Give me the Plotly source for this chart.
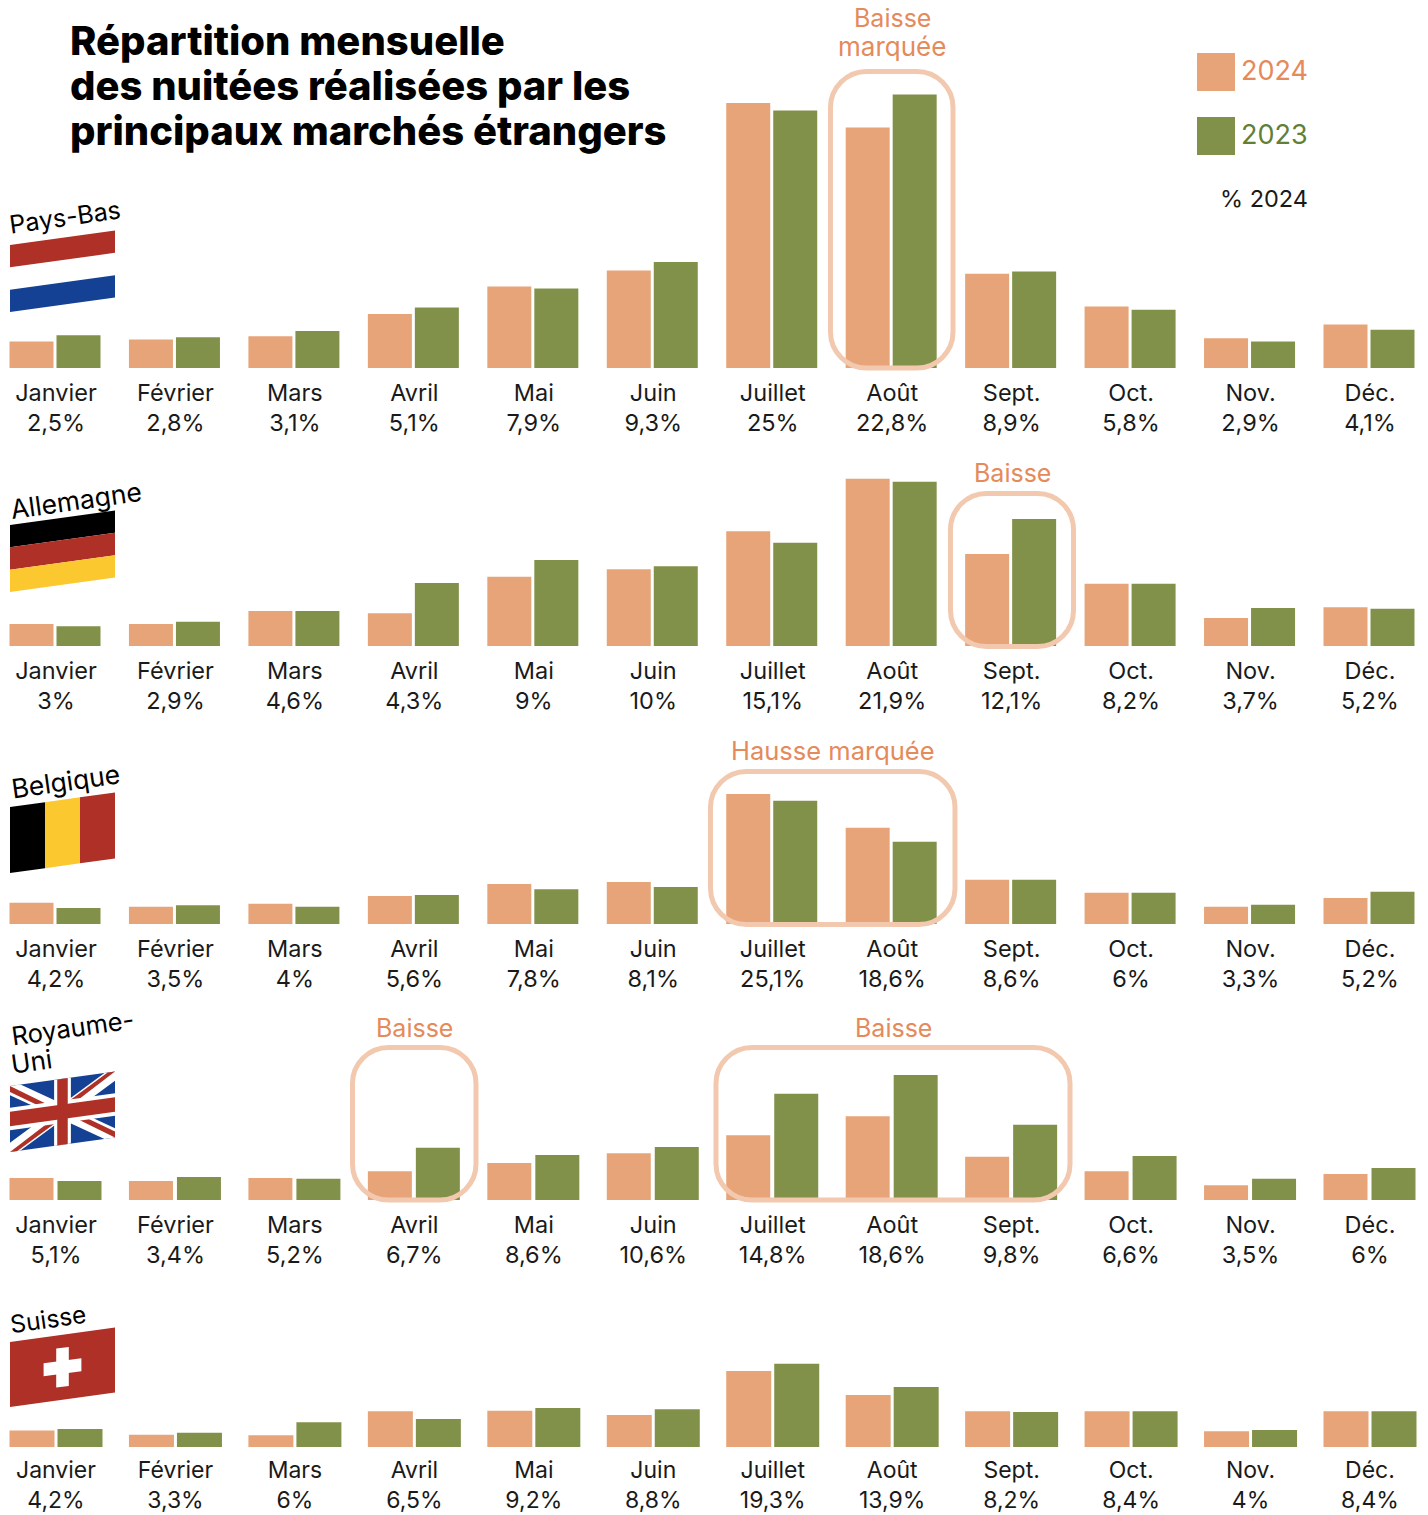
import plotly.graph_objects as go

W, H = 1428, 1515

months = ["Janvier", "Février", "Mars", "Avril", "Mai", "Juin", "Juillet", "Août", "Sept.", "Oct.", "Nov.", "Déc."]
countries = ["Pays-Bas", "Allemagne", "Belgique", "Royaume-Uni", "Suisse"]

labels_pb = ["2,5%", "2,8%", "3,1%", "5,1%", "7,9%", "9,3%", "25%", "22,8%", "8,9%", "5,8%", "2,9%", "4,1%"]
labels_de = ["3%", "2,9%", "4,6%", "4,3%", "9%", "10%", "15,1%", "21,9%", "12,1%", "8,2%", "3,7%", "5,2%"]
labels_be = ["4,2%", "3,5%", "4%", "5,6%", "7,8%", "8,1%", "25,1%", "18,6%", "8,6%", "6%", "3,3%", "5,2%"]
labels_uk = ["5,1%", "3,4%", "5,2%", "6,7%", "8,6%", "10,6%", "14,8%", "18,6%", "9,8%", "6,6%", "3,5%", "6%"]
labels_ch = ["4,2%", "3,3%", "6%", "6,5%", "9,2%", "8,8%", "19,3%", "13,9%", "8,2%", "8,4%", "4%", "8,4%"]

v2024_pb = [2.5, 2.7, 3.0, 5.1, 7.7, 9.2, 25.0, 22.7, 8.9, 5.8, 2.8, 4.1]
v2023_pb = [3.1, 2.9, 3.5, 5.7, 7.5, 10.0, 24.3, 25.8, 9.1, 5.5, 2.5, 3.6]
v2024_de = [2.9, 2.9, 4.6, 4.3, 9.1, 10.1, 15.1, 22.0, 12.1, 8.2, 3.7, 5.1]
v2023_de = [2.6, 3.2, 4.6, 8.3, 11.3, 10.5, 13.6, 21.6, 16.7, 8.2, 5.0, 4.9]
v2024_be = [4.1, 3.3, 3.9, 5.4, 7.7, 8.1, 25.0, 18.5, 8.5, 6.0, 3.3, 5.0]
v2023_be = [3.1, 3.6, 3.3, 5.6, 6.7, 7.1, 23.7, 15.8, 8.5, 6.0, 3.7, 6.2]
v2024_uk = [4.9, 4.2, 4.9, 6.4, 8.2, 10.4, 14.4, 18.6, 9.6, 6.4, 3.3, 5.8]
v2023_uk = [4.2, 5.1, 4.7, 11.6, 10.0, 11.8, 23.6, 27.8, 16.7, 9.8, 4.7, 7.1]
v2024_ch = [4.2, 3.1, 3.0, 9.1, 9.2, 8.1, 19.3, 13.2, 9.1, 9.1, 4.0, 9.1]
v2023_ch = [4.6, 3.6, 6.3, 7.1, 9.9, 9.6, 21.1, 15.2, 8.9, 9.1, 4.3, 9.1]

PEACH, GREEN = "#E7A478", "#82914A"
ORANGE_TXT, GREEN_TXT = "#E58A5A", "#5F8037"
FRAME = "#F2C9AE"
RED, BLUE, YEL = "#AE3026", "#144193", "#FBC82F"
FONT = "Inter"
TXT = "#1a1a1a"

# row geometry: baseline px, span px, px per %, bar group shift from label centre px, bar w, gap, label size, standoff
rows = [
    (368, 300, 10.6, -1.0, 44, 3, 23.5, 8, labels_pb, v2024_pb, v2023_pb),
    (646, 200, 7.6, -1.0, 44, 3, 23.5, 8, labels_de, v2024_de, v2023_de),
    (924, 160, 5.2, -1.0, 44, 3, 23.5, 8, labels_be, v2024_be, v2023_be),
    (1200, 140, 4.5, -0.5, 44, 4, 23.5, 8, labels_uk, v2024_uk, v2023_uk),
    (1447, 100, 3.94, 0.0, 45, 3, 23, 7, labels_ch, v2024_ch, v2023_ch),
]
C0, C1 = 56.0, 1370.0  # label centres of first and last month


def px(x):
    return x / W


def py(y):
    return 1 - y / H


fig = go.Figure()
layout = dict(
    width=W, height=H, margin=dict(l=0, r=0, t=0, b=0),
    paper_bgcolor="white", plot_bgcolor="white", showlegend=False,
    barmode="overlay", font=dict(family=FONT, color=TXT),
)
idx = list(range(12))
step = (C1 - C0) / 11
for i, (base, span, scale, shift, bw, gap, lsize, standoff, labs, a, b) in enumerate(rows):
    n = "" if i == 0 else str(i + 1)
    for vals, col, name, off in (
        (a, PEACH, "2024", (shift - bw - gap / 2) / step),
        (b, GREEN, "2023", (shift + gap / 2) / step),
    ):
        fig.add_trace(go.Bar(x=idx, y=vals, name=name, marker=dict(color=col, line=dict(width=0)),
                             width=bw / step, offset=off, xaxis="x" + n, yaxis="y" + n,
                             hovertemplate=countries[i] + " " + name + " %{y}<extra></extra>"))
    layout["xaxis" + n] = dict(
        domain=[0, 1], range=[(0 - C0) / step, (W - C0) / step], anchor="y" + n,
        tickmode="array", tickvals=idx, ticktext=[m + "<br>" + l for m, l in zip(months, labs)],
        tickfont=dict(family=FONT, size=lsize, color=TXT), ticks="", showgrid=False, zeroline=False,
        showline=False, ticklabelstandoff=standoff, tickangle=0, automargin=False,
    )
    layout["yaxis" + n] = dict(
        domain=[py(base), py(base - span)], range=[0, span / scale], anchor="x" + n,
        visible=False, showgrid=False, zeroline=False,
    )

shapes, ann = [], []


def poly(pts, color):
    d = "M" + " L".join(f"{px(x):.5f},{py(y):.5f}" for x, y in pts) + " Z"
    shapes.append(dict(type="path", path=d, xref="paper", yref="paper", fillcolor=color,
                       line=dict(width=0), layer="above"))


def frame(x0, y0, x1, y1, r=36):
    k = r * 0.45
    P = lambda x, y: f"{px(x):.5f},{py(y):.5f}"
    d = (f"M{P(x0 + r, y0)} L{P(x1 - r, y0)} C{P(x1 - k, y0)} {P(x1, y0 + k)} {P(x1, y0 + r)} "
         f"L{P(x1, y1 - r)} C{P(x1, y1 - k)} {P(x1 - k, y1)} {P(x1 - r, y1)} "
         f"L{P(x0 + r, y1)} C{P(x0 + k, y1)} {P(x0, y1 - k)} {P(x0, y1 - r)} "
         f"L{P(x0, y0 + r)} C{P(x0, y0 + k)} {P(x0 + k, y0)} {P(x0 + r, y0)} Z")
    shapes.append(dict(type="path", path=d, xref="paper", yref="paper",
                       line=dict(color=FRAME, width=5), fillcolor="rgba(0,0,0,0)", layer="above"))


def flag(top_left_y, h):
    def m(u, v):
        return 10 + 105 * u, top_left_y - 14.5 * u + h * v
    return lambda pts, col: poly([m(u, v) for u, v in pts], col)


def rect(u0, v0, u1, v1):
    return [(u0, v0), (u1, v0), (u1, v1), (u0, v1)]


# Pays-Bas
f = flag(245, 67)
f(rect(0, 0, 1, 1 / 3), RED)
f(rect(0, 2 / 3, 1, 1), BLUE)
# Allemagne
f = flag(525, 67)
f(rect(0, 0, 1, 1 / 3), "#000000")
f(rect(0, 1 / 3, 1, 2 / 3), RED)
f(rect(0, 2 / 3, 1, 1), YEL)
# Belgique
f = flag(807, 66)
f(rect(0, 0, 1 / 3, 1), "#000000")
f(rect(1 / 3, 0, 2 / 3, 1), YEL)
f(rect(2 / 3, 0, 1, 1), RED)
# Royaume-Uni
f = flag(1086, 66)
f(rect(0, 0, 1, 1), BLUE)
f([(0, 0), (0.1, 0), (1, 0.86), (1, 1), (0.9, 1), (0, 0.14)], "#FFFFFF")
f([(1, 0), (0.9, 0), (0, 0.86), (0, 1), (0.1, 1), (1, 0.14)], "#FFFFFF")
f([(0, 0), (0.5, 0.5), (0.42, 0.5), (0, 0.09)], RED)
f([(1, 1), (0.5, 0.5), (0.58, 0.5), (1, 0.91)], RED)
f([(1, 0), (0.5, 0.5), (0.5, 0.41), (0.93, 0)], RED)
f([(0, 1), (0.5, 0.5), (0.5, 0.59), (0.07, 1)], RED)
f(rect(0.42, 0, 0.58, 1), "#FFFFFF")
f(rect(0, 0.33, 1, 0.67), "#FFFFFF")
f(rect(0.45, 0, 0.55, 1), RED)
f(rect(0, 0.39, 1, 0.61), RED)
# Suisse
f = flag(1342, 65)
f(rect(0, 0, 1, 1), RED)
f(rect(0.44, 0.2, 0.56, 0.8), "#FFFFFF")
f(rect(0.32, 0.4, 0.68, 0.6), "#FFFFFF")

frame(830.5, 71.5, 953, 368)
frame(950.5, 493.5, 1073.5, 646.5)
frame(710.5, 771.5, 955, 924.5)
frame(352.5, 1047.5, 476, 1200)
frame(716, 1047.5, 1070, 1200)

# legend squares
shapes.append(dict(type="rect", xref="paper", yref="paper", x0=px(1197), x1=px(1235), y0=py(91), y1=py(53),
                   fillcolor=PEACH, line=dict(width=0)))
shapes.append(dict(type="rect", xref="paper", yref="paper", x0=px(1197), x1=px(1235), y0=py(155), y1=py(117),
                   fillcolor=GREEN, line=dict(width=0)))


def text(s, x, y, size, color=TXT, anchor="center", angle=0, weight=None):
    fnt = dict(family=FONT, size=size, color=color)
    if weight:
        fnt["weight"] = weight
    ann.append(dict(text=s, x=px(x), y=py(y), xref="paper", yref="paper", showarrow=False,
                    xanchor=anchor, yanchor="middle", font=fnt, textangle=angle))


text("Répartition mensuelle", 68, 41, 40, "#000000", "left", weight=800)
text("des nuitées réalisées par les", 68, 86, 40, "#000000", "left", weight=800)
text("principaux marchés étrangers", 68, 130.5, 40, "#000000", "left", weight=800)

text("2024", 1239, 70, 27, ORANGE_TXT, "left")
text("2023", 1239, 134, 27, GREEN_TXT, "left")
text("% 2024", 1218, 198, 23.5, TXT, "left")

for s, x, y, sz in [("Baisse", 892, 18, 25), ("marquée", 892, 47, 26), ("Baisse", 1012, 473, 25),
                    ("Hausse marquée", 833, 750.5, 25.5), ("Baisse", 414, 1028, 25), ("Baisse", 893, 1028, 25)]:
    text(s, x, y, sz, ORANGE_TXT)

for s, x, y, sz in [("Pays-Bas", 65, 217, 25), ("Allemagne", 76, 500.5, 26.5), ("Belgique", 65, 781, 26.5),
                    ("Royaume-", 72, 1027, 25.5), ("Uni", 31, 1061, 26), ("Suisse", 48, 1319, 24.5)]:
    text(s, x, y, sz, "#000000", angle=-8)

layout["shapes"] = shapes
layout["annotations"] = ann
fig.update_layout(**layout)
fig.write_html("out.html", config={"displayModeBar": False},
               post_script="document.body.style.margin='0';document.body.style.overflow='hidden';window.dispatchEvent(new Event('resize'));")
